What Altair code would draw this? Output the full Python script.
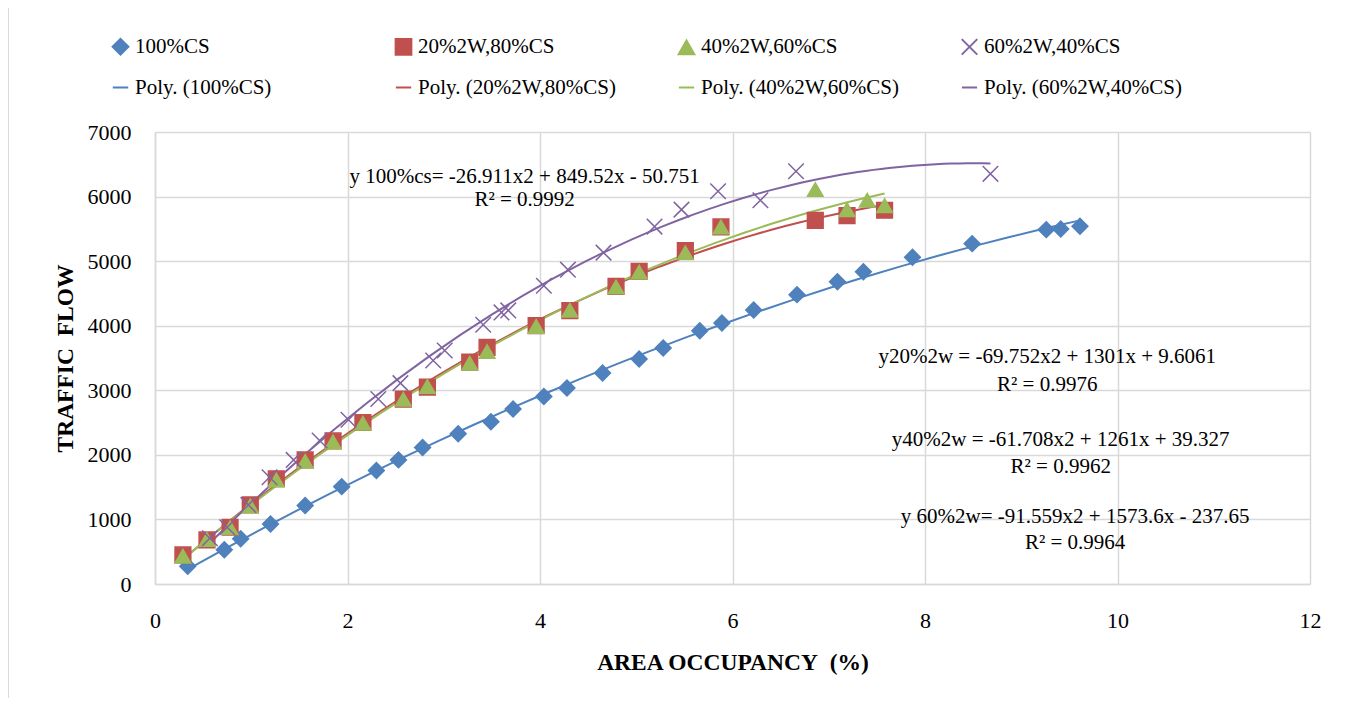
import altair as alt
import pandas as pd

# ---------------- data ----------------
series_names = ["100%CS", "20%2W,80%CS", "40%2W,60%CS", "60%2W,40%CS"]
poly_names = ["Poly. (100%CS)", "Poly. (20%2W,80%CS)", "Poly. (40%2W,60%CS)", "Poly. (60%2W,40%CS)"]

cs100_x = [0.34, 0.72, 0.89, 1.20, 1.56, 1.94, 2.30, 2.53, 2.78, 3.15, 3.49, 3.72, 4.04, 4.28,
           4.65, 5.03, 5.28, 5.66, 5.89, 6.22, 6.67, 7.09, 7.36, 7.87, 8.49, 9.26, 9.41, 9.61]
cs100_y = [275, 530, 700, 930, 1215, 1508, 1757, 1922, 2113, 2326, 2512, 2709, 2904, 3034,
           3267, 3484, 3654, 3922, 4042, 4243, 4481, 4682, 4837, 5059, 5271, 5488, 5499, 5540]

w20_x = [0.29, 0.54, 0.78, 0.99, 1.26, 1.56, 1.85, 2.16, 2.58, 2.83, 3.27, 3.45, 3.96, 4.31,
         4.79, 5.03, 5.51, 5.88, 6.86, 7.19, 7.58]
w20_y = [450, 682, 879, 1225, 1630, 1922, 2215, 2501, 2864, 3050, 3437, 3664, 4000, 4233,
         4609, 4842, 5163, 5530, 5633, 5705, 5788]

w40_x = [0.29, 0.54, 0.78, 0.99, 1.26, 1.56, 1.85, 2.16, 2.58, 2.83, 3.27, 3.45, 3.96, 4.31,
         4.79, 5.03, 5.51, 5.88, 6.86, 7.19, 7.40, 7.58]
w40_y = [430, 690, 870, 1210, 1610, 1900, 2200, 2490, 2860, 3060, 3420, 3600, 3990, 4240,
         4600, 4830, 5130, 5530, 6109, 5798, 5943, 5860]

w60_x = [0.57, 0.75, 0.97, 1.19, 1.44, 1.71, 2.01, 2.32, 2.55, 2.89, 3.01, 3.41, 3.60, 3.67,
         4.04, 4.29, 4.66, 5.19, 5.47, 5.85, 6.29, 6.66, 8.68]
w60_y = [708, 879, 1225, 1654, 1922, 2222, 2543, 2864, 3111, 3462, 3617, 4016, 4206, 4237,
         4620, 4868, 5132, 5535, 5798, 6082, 5943, 6392, 6352]

x_ticks = [0, 2, 4, 6, 8, 10, 12]
y_ticks = [0, 1000, 2000, 3000, 4000, 5000, 6000, 7000]

eq_text = ["y 100%cs= -26.911x2 + 849.52x - 50.751", "R\u00b2 = 0.9992",
           "y20%2w = -69.752x2 + 1301x + 9.6061", "R\u00b2 = 0.9976",
           "y40%2w = -61.708x2 + 1261x + 39.327", "R\u00b2 = 0.9962",
           "y 60%2w= -91.559x2 + 1573.6x - 237.65", "R\u00b2 = 0.9964"]
eq_x = [3.84, 3.84, 9.27, 9.27, 9.41, 9.41, 9.56, 9.56]
eq_y = [6310, 5953, 3519, 3085, 2233, 1814, 1039, 636]

# ---------------- tables ----------------
rows = []
for name, xs, ys in zip(series_names, [cs100_x, w20_x, w40_x, w60_x], [cs100_y, w20_y, w40_y, w60_y]):
    for xv, yv in zip(xs, ys):
        rows.append({"series": name, "label": name, "x": xv, "y": yv})
df = pd.DataFrame(rows)
ann = pd.DataFrame({"text": eq_text, "x": eq_x, "y": eq_y})

FONT = "Liberation Serif"
domain = series_names + poly_names
base_colors = ["#4F81BD", "#C0504D", "#9BBB59", "#8064A2"]
colors = base_colors + base_colors
fills = base_colors[:3] + ["transparent"] * 5
x_path = "M-1,-1L1,1M-1,1L1,-1"
shapes = ["diamond", "square", "triangle-up", x_path] + ["stroke"] * 4
sizes = [250, 230, 260, 250] + [1400] * 4

legend = alt.Legend(orient="none", legendX=-45, legendY=-96, columns=4, title=None,
                    direction="horizontal",
                    labelFont=FONT, labelFontSize=21, labelColor="#000000", labelLimit=500,
                    gridAlign="all", columnPadding=58, rowPadding=17,
                    symbolStrokeWidth=2, labelOffset=4)

xscale = alt.Scale(domain=[0, 12], nice=False)
yscale = alt.Scale(domain=[0, 7000], nice=False)

xaxis = alt.Axis(title="AREA OCCUPANCY\u00a0\u00a0(%)", values=x_ticks, format="d",
                 labelFlush=False, labelPadding=26, titlePadding=19)
yaxis = alt.Axis(title="TRAFFIC\u00a0\u00a0FLOW", values=y_ticks, format="d",
                 labelFlush=False, labelPadding=24, titlePadding=10)

stroke_enc = alt.Stroke("label:N", scale=alt.Scale(domain=domain, range=colors), legend=legend)

points = alt.Chart(df).mark_point(filled=True, opacity=1, strokeWidth=1.5).encode(
    x=alt.X("x:Q", scale=xscale, axis=xaxis),
    y=alt.Y("y:Q", scale=yscale, axis=yaxis),
    stroke=stroke_enc,
    fill=alt.Fill("label:N", scale=alt.Scale(domain=domain, range=fills), legend=legend),
    shape=alt.Shape("label:N", scale=alt.Scale(domain=domain, range=shapes), legend=legend),
    size=alt.Size("label:N", scale=alt.Scale(domain=domain, range=sizes), legend=legend),
)

trends = alt.Chart(df).transform_regression(
    "x", "y", method="poly", order=2, groupby=["series"]
).transform_calculate(
    label="'Poly. (' + datum.series + ')'"
).mark_line(strokeWidth=2).encode(
    x=alt.X("x:Q", scale=xscale),
    y=alt.Y("y:Q", scale=yscale),
    stroke=stroke_enc,
    detail="series:N",
)

labels = alt.Chart(ann).mark_text(font=FONT, fontSize=21, color="#000000", align="center",
                                  baseline="middle").encode(
    x=alt.X("x:Q", scale=xscale),
    y=alt.Y("y:Q", scale=yscale),
    text="text:N",
)

one = pd.DataFrame({"k": [0]})
border_left = alt.Chart(one).mark_rule(color="#d9d9d9", strokeWidth=2).encode(
    x=alt.value(-147), y=alt.value(-132), y2=alt.value(574)
)
border_right = alt.Chart(one).mark_rule(color="#d9d9d9", strokeWidth=2).encode(
    x=alt.value(1194), y=alt.value(-132), y2=alt.value(574)
)

chart = alt.layer(trends, points, labels, border_left, border_right).properties(
    width=1155, height=452,
    padding={"left": 147, "top": 124, "right": 33, "bottom": 114},
    autosize=alt.AutoSizeParams(type="none"),
).configure_view(stroke=None).configure_axis(
    grid=True, gridColor="#d9d9d9", gridWidth=1.5, ticks=False,
    domainColor="#d9d9d9", domainWidth=1.5,
    labelFont=FONT, labelFontSize=22, labelColor="#000000",
    titleFont=FONT, titleFontSize=23.5, titleFontWeight="bold", titleColor="#000000",
)

chart.save("out.html", embed_options={"renderer": "svg", "actions": False})
